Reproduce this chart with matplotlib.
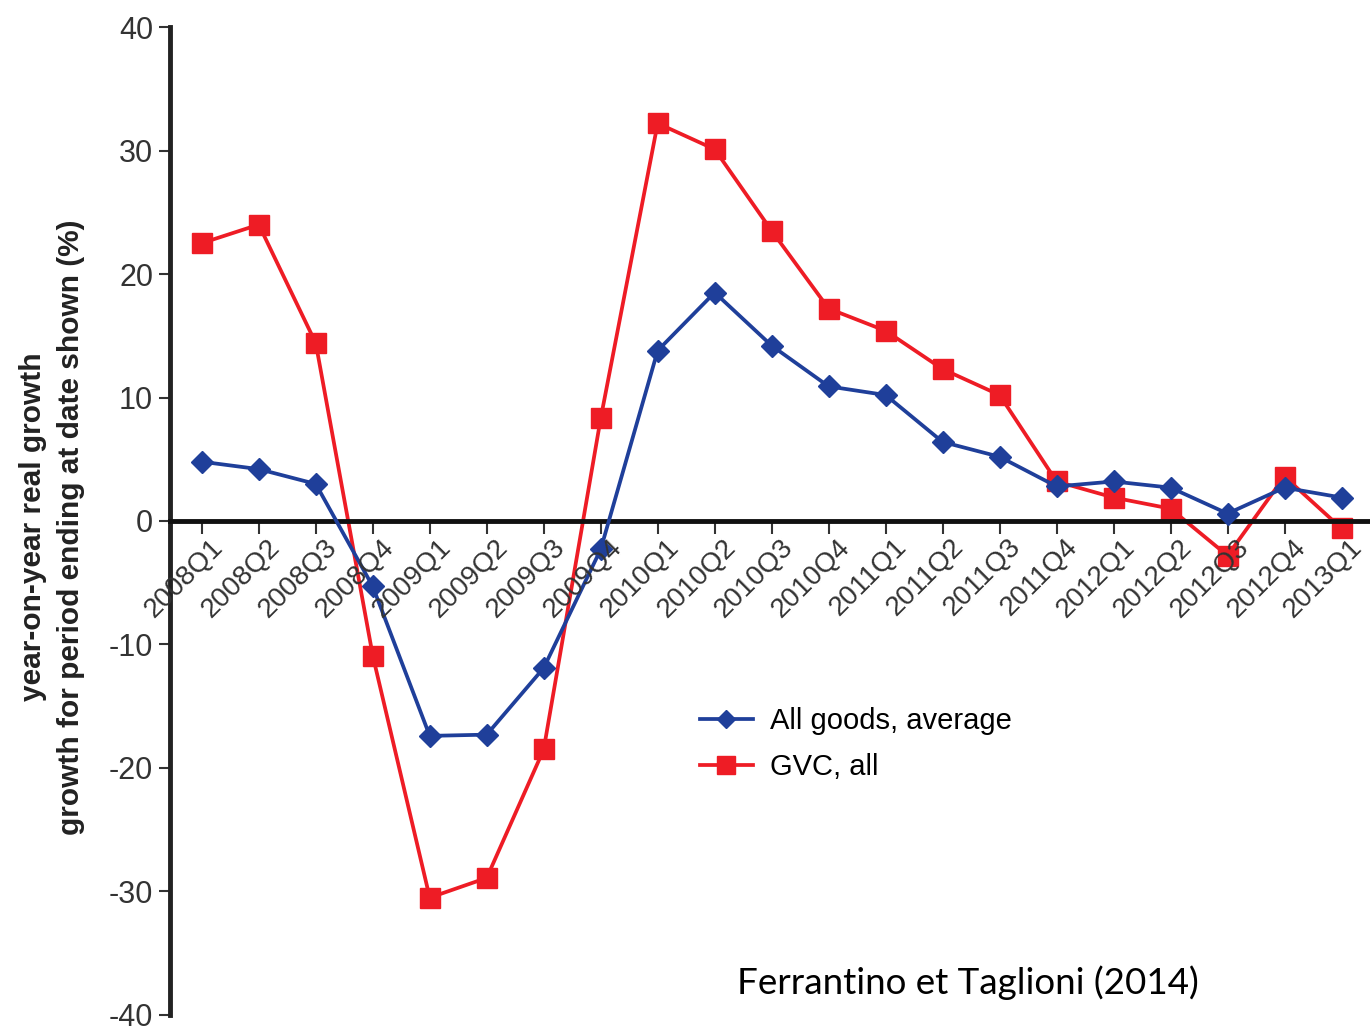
import matplotlib.pyplot as plt

plt.rcParams['font.family'] = ['Liberation Sans Narrow', 'Liberation Sans', 'DejaVu Sans']

quarters = ["2008Q1", "2008Q2", "2008Q3", "2008Q4",
            "2009Q1", "2009Q2", "2009Q3", "2009Q4",
            "2010Q1", "2010Q2", "2010Q3", "2010Q4",
            "2011Q1", "2011Q2", "2011Q3", "2011Q4",
            "2012Q1", "2012Q2", "2012Q3", "2012Q4",
            "2013Q1"]

all_goods = [4.8, 4.2, 3.0, -5.3, -17.4, -17.3, -11.9, -2.3,
             13.8, 18.5, 14.2, 10.9, 10.2, 6.4, 5.2, 2.8,
             3.2, 2.7, 0.6, 2.7, 1.9]

gvc_all = [22.5, 24.0, 14.4, -10.9, -30.5, -28.9, -18.5, 8.3,
           32.2, 30.1, 23.5, 17.2, 15.4, 12.3, 10.2, 3.2,
           1.9, 1.0, -2.8, 3.6, -0.6]

yticks = [40, 30, 20, 10, 0, -10, -20, -30, -40]

BLUE = "#1f3f9a"
RED = "#ee1c25"

fig = plt.figure(figsize=(13.7, 10.27), dpi=100)
ax = fig.add_axes([0.124, 0.0117, 0.876, 0.962])

x = list(range(len(quarters)))
ax.plot(x, all_goods, color=BLUE, lw=2.7, marker="D", ms=11, label="All goods, average", zorder=3)
ax.plot(x, gvc_all, color=RED, lw=2.7, marker="s", ms=15, label="GVC, all", zorder=2)

ax.set_xlim(-0.56, 20.5)
ax.set_ylim(-40, 40)

for s in ["top", "right"]:
    ax.spines[s].set_visible(False)
ax.spines["left"].set_linewidth(3.5)
ax.spines["left"].set_color("#222222")
ax.spines["bottom"].set_position(("data", 0))
ax.spines["bottom"].set_linewidth(3.5)
ax.spines["bottom"].set_color("#111111")

ax.set_yticks(yticks)
ax.set_yticklabels([str(v) for v in yticks])
ax.tick_params(axis="y", length=8, width=1.5, color="#333333", labelsize=22,
               labelcolor="#333333", pad=4)
ax.set_xticks(x)
ax.tick_params(axis="x", length=9, width=1.5, color="#333333", direction="out",
               labelbottom=False)

for i, q in enumerate(quarters):
    ax.text(i + 0.3, -1.8, q, rotation=45, rotation_mode="anchor",
            ha="right", va="center", fontsize=20, color="#333333")

fig.text(0.038, 0.487, "year-on-year real growth\ngrowth for period ending at date shown (%)",
         rotation=90, ha="center", va="center", fontsize=21.5, fontweight="bold",
         color="#222222", linespacing=1.45)

ax.legend(loc="upper left", bbox_to_anchor=(0.42, 0.338), frameon=False,
          fontsize=21, handlelength=1.8, labelspacing=0.6, handletextpad=0.6,
          markerscale=0.85)

fig.text(0.538, 0.032, "Ferrantino et Taglioni (2014)", fontsize=26.5,
         family=["Lato", "DejaVu Sans"], color="black")

fig.savefig("out.png", dpi=100)
